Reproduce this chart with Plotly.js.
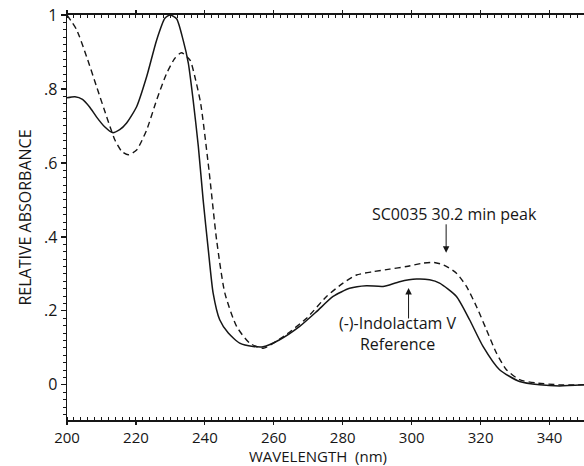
<!DOCTYPE html>
<html>
<head>
<meta charset="utf-8">
<script src="https://cdn.plot.ly/plotly-3.0.1.min.js"></script>
<style>html,body{margin:0;padding:0;background:#fff;}#chart{width:584px;height:466px;}</style>
</head>
<body>
<div id="chart"></div>
<script>
// Indolactam V reference (solid)
const refWavelength = [200, 202.3, 204.5, 206.5, 208.6, 211, 213.2, 215.3, 217.3, 220.2, 223.1, 226, 228.4, 229.9, 231.8, 233.7, 235.2, 236.6, 238.1, 239.5, 241, 242.4, 244.3, 246.8, 250.1, 254, 256.9, 261.7, 267.5, 272.4, 277.2, 282, 286.9, 291.7, 296.5, 301.4, 305.2, 308.1, 313, 316.8, 320.7, 325.5, 331.3, 337.1, 342.9, 350];
const refAbsorbance = [0.776, 0.779, 0.772, 0.752, 0.724, 0.697, 0.682, 0.69, 0.708, 0.752, 0.833, 0.932, 0.991, 1.0, 0.99, 0.932, 0.87, 0.77, 0.645, 0.5, 0.365, 0.248, 0.176, 0.14, 0.113, 0.104, 0.103, 0.122, 0.158, 0.198, 0.239, 0.261, 0.268, 0.266, 0.279, 0.286, 0.284, 0.275, 0.239, 0.176, 0.104, 0.041, 0.009, 0.0, -0.003, 0.0];
// SC0035 30.2 min peak (dashed)
const scWavelength = [200, 202.8, 205.7, 208.6, 211.5, 213.9, 215.9, 217.8, 220.2, 223.1, 226, 228.9, 231.3, 233.2, 235.7, 237.1, 238.8, 241.2, 243.4, 245.8, 249.2, 253, 256.9, 262.7, 269.5, 275.3, 280.1, 284, 288.8, 293.6, 298.5, 303.3, 306.5, 309.3, 313, 315.9, 318.8, 321.7, 324.6, 327.5, 331.3, 336.1, 342.9, 350];
const scAbsorbance = [1.0, 0.96, 0.887, 0.806, 0.725, 0.662, 0.631, 0.622, 0.635, 0.689, 0.77, 0.842, 0.883, 0.898, 0.878, 0.833, 0.76, 0.58, 0.392, 0.248, 0.158, 0.113, 0.099, 0.13, 0.18, 0.239, 0.275, 0.297, 0.306, 0.313, 0.32, 0.329, 0.331, 0.324, 0.302, 0.266, 0.212, 0.149, 0.086, 0.041, 0.014, 0.005, 0.0, 0.0];
const yTickVals = [0, 0.2, 0.4, 0.6, 0.8, 1];
const yTickText = ['0', '.2', '.4', '.6', '.8', '1'];
const xTickVals = [200, 220, 240, 260, 280, 300, 320, 340];
const xTickText = ['200', '220', '240', '260', '280', '300', '320', '340'];
const xTitle = 'WAVELENGTH  (nm)';
const yTitle = 'RELATIVE ABSORBANCE';

const FONT = 'Open Sans, Lato, sans-serif';
const INK = '#161616';

const traces = [
  {x: refWavelength, y: refAbsorbance, mode: 'lines', line: {color: INK, width: 1.5, shape: 'spline', smoothing: 0.6}, name: '(-)-Indolactam V Reference'},
  {x: scWavelength, y: scAbsorbance, mode: 'lines', line: {color: INK, width: 1.4, dash: '6px,4px', shape: 'spline', smoothing: 0.6}, name: 'SC0035 30.2 min peak'}
];

const layout = {
  width: 584, height: 466,
  margin: {l: 67, r: 0, t: 15, b: 46},
  paper_bgcolor: '#fff', plot_bgcolor: '#fff',
  showlegend: false,
  font: {family: FONT, size: 16, color: INK},
  xaxis: {
    range: [200, 350], showgrid: false, zeroline: false,
    tickvals: xTickVals, ticktext: xTickText,
    ticks: 'outside', ticklen: 3, tickwidth: 1.2, tickcolor: INK,
    showline: true, linecolor: INK, linewidth: 1.6, mirror: 'ticks',
    minor: {dtick: 2, tick0: 200, ticks: 'inside', ticklen: 3, tickwidth: 1, tickcolor: INK, showgrid: false},
    tickfont: {size: 15}
  },
  yaxis: {
    range: [-0.095, 1.0], showgrid: false, zeroline: false,
    tickvals: yTickVals, ticktext: yTickText,
    ticks: 'outside', ticklen: 5, tickwidth: 1.2, tickcolor: INK,
    showline: true, linecolor: INK, linewidth: 1.4, mirror: false,
    minor: {dtick: 0.02, tick0: 0, ticks: 'outside', ticklen: 3, tickwidth: 1, tickcolor: INK, showgrid: false},
    tickfont: {size: 16},
    title: {text: yTitle, font: {size: 16}, standoff: 8}
  },
  annotations: [
    {x: 0.5, y: -0.0877, xref: 'paper', yref: 'paper', xanchor: 'center', yanchor: 'middle', text: xTitle, showarrow: false, font: {size: 15}, xshift: -8},
    {x: 312.5, y: 0.462, xref: 'x', yref: 'y', text: 'SC0035 30.2 min peak', showarrow: false, font: {size: 16}},
    {x: 310.0, y: 0.357, xref: 'x', yref: 'y', text: '', showarrow: true, ax: 0, ay: -30, arrowhead: 2, arrowsize: 1.3, arrowwidth: 1, arrowcolor: INK},
    {x: 295.9, y: 0.138, xref: 'x', yref: 'y', text: '(-)-Indolactam V<br>Reference', showarrow: false, font: {size: 16}},
    {x: 299.1, y: 0.262, xref: 'x', yref: 'y', text: '', showarrow: true, ax: 0, ay: 32, arrowhead: 2, arrowsize: 1.3, arrowwidth: 1, arrowcolor: INK}
  ]
};

Plotly.newPlot('chart', traces, layout, {staticPlot: true, displayModeBar: false});
</script>
</body>
</html>
